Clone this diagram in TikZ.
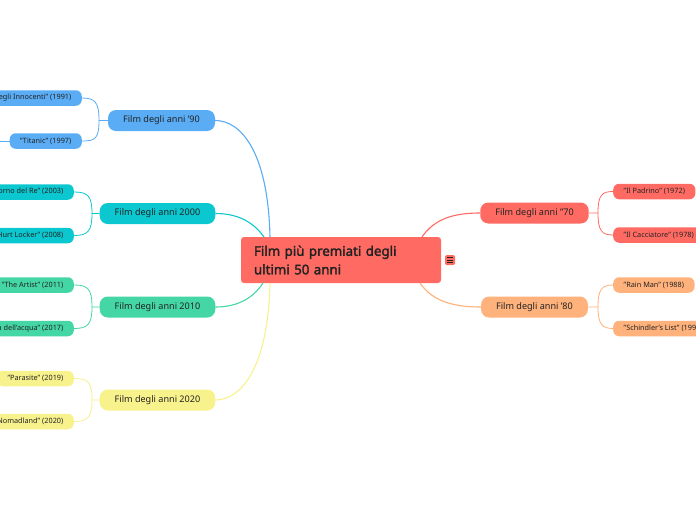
\documentclass[tikz,border=0pt]{standalone}
\usepackage{fontspec}
\usetikzlibrary{calc}
\setmainfont{Noto Sans}[AutoFakeBold=2.2]
\definecolor{cRed}{HTML}{FF6B63}
\definecolor{cBlue}{HTML}{5AADF5}
\definecolor{cTeal}{HTML}{0BC8D0}
\definecolor{cGreen}{HTML}{44D7A5}
\definecolor{cYellow}{HTML}{F8F28D}
\definecolor{cOrange}{HTML}{FFB27C}
\definecolor{txt}{HTML}{222222}
\begin{document}
\begin{tikzpicture}[x=1pt,y=-1pt,
  lvl/.style={rounded corners=8pt, minimum height=21pt, inner xsep=15pt, inner ysep=0pt, font=\fontsize{9.1}{11}\selectfont, text=txt},
  leaf/.style={rounded corners=6pt, minimum height=15.5pt, inner xsep=10.5pt, inner ysep=0pt, font=\fontsize{7.3}{9}\selectfont, text=txt},
  conn/.style={line width=1.1pt},
  sub/.style={line width=0.8pt},
]
\useasboundingbox (0,0) rectangle (696,520);
\clip (0,0) rectangle (696,520);
\fill[white] (0,0) rectangle (696,520);

% central node
\node[fill=cRed, rounded corners=3pt, minimum height=46pt, text width=174pt, inner xsep=13pt, inner ysep=0pt, align=left, font=\fontsize{13.3}{18.5}\selectfont\bfseries, text=txt] (c) at (341,260) {Film più premiati degli\\ultimi 50 anni};

% icon
\node[fill=cRed, rounded corners=1.5pt, minimum width=10pt, minimum height=10pt, inner sep=0pt] (ic) at (450,260) {};
\foreach \dy in {-2.2,0,2.2} \draw[txt, line width=0.7pt] ($(ic.center)+(-3,\dy)$) -- ($(ic.center)+(3,\dy)$);

% level 1 nodes
\node[lvl, fill=cBlue, minimum width=107pt] (n90) at (161.5,120.5) {Film degli anni '90};
\node[lvl, fill=cTeal, minimum width=115pt] (n00) at (157.5,213.5) {Film degli anni 2000};
\node[lvl, fill=cGreen, minimum width=115pt] (n10) at (157.5,307) {Film degli anni 2010};
\node[lvl, fill=cYellow, minimum width=115pt] (n20) at (157.5,400) {Film degli anni 2020};
\node[lvl, fill=cRed, minimum width=105pt] (n70) at (534.5,213) {Film degli anni "70};
\node[lvl, fill=cOrange, minimum width=105pt] (n80) at (534.5,307) {Film degli anni '80};

% leaves left
\node[leaf, fill=cBlue, anchor=east] (l91) at (82,98) {"Il silenzio degli Innocenti" (1991)};
\node[leaf, fill=cBlue, anchor=east] (l97) at (82,141) {"Titanic" (1997)};
\node[leaf, fill=cTeal, anchor=east] (l03) at (74,192) {"Il Signore degli Anelli - Il ritorno del Re" (2003)};
\node[leaf, fill=cTeal, anchor=east] (l08) at (74,235.5) {"The Hurt Locker" (2008)};
\node[leaf, fill=cGreen, anchor=east] (l11) at (74,285) {"The Artist" (2011)};
\node[leaf, fill=cGreen, anchor=east] (l17) at (74,328.5) {"La forma dell'acqua" (2017)};
\node[leaf, fill=cYellow, anchor=east] (l19) at (74,378.5) {"Parasite" (2019)};
\node[leaf, fill=cYellow, anchor=east] (l20) at (74,421.5) {"Nomadland" (2020)};
% leaves right
\node[leaf, fill=cRed, anchor=west] (r72) at (613,191.5) {"Il Padrino" (1972)};
\node[leaf, fill=cRed, anchor=west] (r78) at (613,235) {"Il Cacciatore" (1978)};
\node[leaf, fill=cOrange, anchor=west] (r88) at (613,285) {"Rain Man" (1988)};
\node[leaf, fill=cOrange, anchor=west] (r93) at (613,328.5) {"Schindler's List" (1993)};

% anchor points on central node
\coordinate (s90) at (270,237);
\coordinate (s00) at (264,237);
\coordinate (s10) at (263,283);
\coordinate (s20) at (270,283);
\coordinate (s70) at (422,237);
\coordinate (s80) at (420,283);

% main connectors
\draw[conn, cBlue] (s90) .. controls (268,150) and (240,120.5) .. (n90.east);
\draw[conn, cTeal] (s00) .. controls (252,220) and (235,213.5) .. (n00.east);
\draw[conn, cGreen] (s10) .. controls (252,300) and (235,307) .. (n10.east);
\draw[conn, cYellow] (s20) .. controls (268,370) and (240,400) .. (n20.east);
\draw[conn, cRed] (s70) .. controls (435,218) and (455,213) .. (n70.west);
\draw[conn, cOrange] (s80) .. controls (433,302) and (455,307) .. (n80.west);

% bracket points
\coordinate (b90) at (99,120.5);
\coordinate (b00) at (92,213.5);
\coordinate (b10) at (92,307);
\coordinate (b20) at (92,400);
\coordinate (b70) at (598,213);
\coordinate (b80) at (598,307);
\coordinate (t97) at (-6,141);

\draw[sub, cBlue] (n90.west) -- (b90) .. controls (99,102) and (95,98) .. (l91.east);
\draw[sub, cBlue] (b90) .. controls (99,139) and (95,141) .. (l97.east);
\draw[sub, cBlue] (l97.west) -- (t97);
\draw[sub, cTeal] (n00.west) -- (b00) .. controls (92,196) and (88,192) .. (l03.east);
\draw[sub, cTeal] (b00) .. controls (92,231) and (88,235.5) .. (l08.east);
\draw[sub, cGreen] (n10.west) -- (b10) .. controls (92,289) and (88,285) .. (l11.east);
\draw[sub, cGreen] (b10) .. controls (92,324) and (88,328.5) .. (l17.east);
\draw[sub, cYellow] (n20.west) -- (b20) .. controls (92,382) and (88,378.5) .. (l19.east);
\draw[sub, cYellow] (b20) .. controls (92,417) and (88,421.5) .. (l20.east);
\draw[sub, cRed] (n70.east) -- (b70) .. controls (598,195) and (602,191.5) .. (r72.west);
\draw[sub, cRed] (b70) .. controls (598,231) and (602,235) .. (r78.west);
\draw[sub, cOrange] (n80.east) -- (b80) .. controls (598,289) and (602,285) .. (r88.west);
\draw[sub, cOrange] (b80) .. controls (598,324) and (602,328.5) .. (r93.west);
\end{tikzpicture}
\end{document}
